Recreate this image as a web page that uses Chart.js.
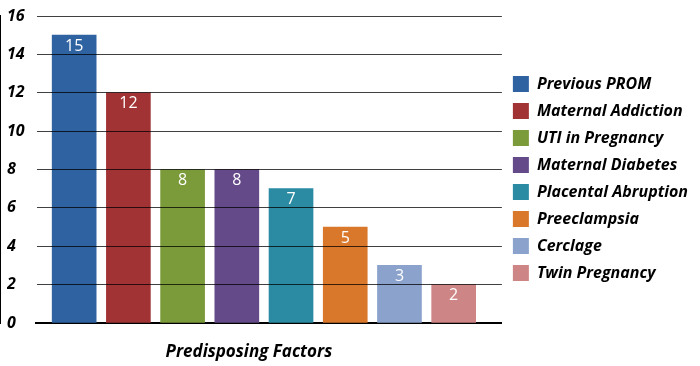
<!DOCTYPE html>
<html>
<head>
<meta charset="utf-8">
<script src="https://cdn.jsdelivr.net/npm/chart.js@4/dist/chart.umd.min.js"></script>
<style>
  html, body { margin: 0; padding: 0; background: #fff; }
  #wrap { width: 700px; height: 366px; }
</style>
</head>
<body>
<div id="wrap"><canvas id="factors-chart"></canvas></div>
<script>
var categories = ['Previous PROM', 'Maternal Addiction', 'UTI in Pregnancy', 'Maternal Diabetes',
  'Placental Abruption', 'Preeclampsia', 'Cerclage', 'Twin Pregnancy'];
var counts = [15, 12, 8, 8, 7, 5, 3, 2];
var barColors = ['#2f62a0', '#a23334', '#7b9a3a', '#644a88', '#2a8ba3', '#d9782b', '#8aa2cc', '#ce8585'];
var yTickValues = [0, 2, 4, 6, 8, 10, 12, 14, 16];
var xTitle = 'Predisposing Factors';
</script>
<script>
(function () {
  'use strict';

  var FONT = "'Open Sans', sans-serif";

  // white value labels just under the top of each bar, plus the x axis title
  var barValues = {
    id: 'barValues',
    afterDatasetsDraw: function (chart) {
      var ctx = chart.ctx;
      var meta = chart.getDatasetMeta(0);
      ctx.save();
      ctx.fillStyle = '#fff';
      ctx.font = '16px ' + FONT;
      ctx.textAlign = 'center';
      ctx.textBaseline = 'middle';
      meta.data.forEach(function (bar, i) {
        ctx.fillText(String(counts[i]), bar.x, bar.y + 11);
      });
      ctx.restore();
    },
    afterDraw: function (chart) {
      var ctx = chart.ctx;
      var area = chart.chartArea;
      ctx.save();
      ctx.fillStyle = '#000';
      ctx.font = 'italic bold 17px ' + FONT;
      ctx.textAlign = 'center';
      ctx.textBaseline = 'middle';
      ctx.fillText(xTitle, area.left + (area.right - area.left) * 0.457, area.bottom + 29);
      ctx.restore();
    }
  };

  function draw() {
    var points = counts.map(function (v, i) { return { x: i, y: v }; });

    var chartCanvas = document.getElementById('factors-chart').getContext('2d');
    var factorsChart = new Chart(chartCanvas, {
      type: 'bar',
      data: {
        datasets: [{
          data: points,
          backgroundColor: barColors,
          borderWidth: 0,
          barThickness: 44
        }]
      },
      options: {
        responsive: true,
        maintainAspectRatio: false,
        animation: false,
        layout: { padding: { left: 7, top: 16, right: 2, bottom: 25 } },
        plugins: {
          tooltip: { enabled: false },
          legend: {
            position: 'right',
            maxWidth: 240,
            onClick: null,
            labels: {
              boxWidth: 16,
              boxHeight: 16,
              padding: 11,
              color: '#000',
              font: { family: FONT, size: 16, weight: 'bold', style: 'italic' },
              generateLabels: function () {
                return categories.map(function (c, i) {
                  return { text: c, fillStyle: barColors[i], strokeStyle: barColors[i], lineWidth: 0, hidden: false, index: i };
                });
              }
            }
          }
        },
        scales: {
          x: {
            type: 'linear',
            offset: false,
            bounds: 'data',
            min: -0.704,
            max: 7.889,
            afterFit: function (scale) { scale.height = 18; },
            grid: { display: false, drawTicks: false, offset: false },
            border: { color: '#000', width: 2 },
            ticks: { display: false }
          },
          y: {
            min: 0,
            max: 16,
            afterBuildTicks: function (scale) {
              scale.ticks = yTickValues.map(function (v) { return { value: v }; });
            },
            afterFit: function (scale) { scale.width = 29; },
            grid: { color: 'rgba(0,0,0,0.75)', lineWidth: 1, drawTicks: false, z: 1 },
            border: { color: '#000', width: 2 },
            ticks: {
              crossAlign: 'far',
              color: '#000',
              font: { family: FONT, size: 16, weight: 'bold', style: 'italic' }
            }
          }
        }
      },
      plugins: [barValues]
    });
  }

  // make sure the fonts are measured correctly before layout
  Promise.all([
    document.fonts.load("bold italic 16px 'Open Sans'"),
    document.fonts.load("16px 'Open Sans'")
  ]).then(draw, draw);
})();
</script>
</body>
</html>
